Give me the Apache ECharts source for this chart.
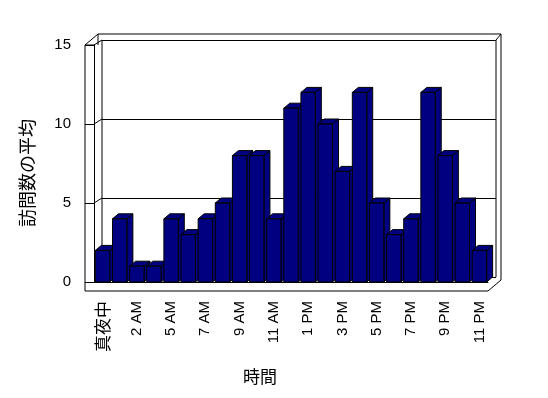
<!DOCTYPE html>
<html>
<head>
<meta charset="utf-8">
<script src="https://cdn.jsdelivr.net/npm/echarts@6/dist/echarts.min.js"></script>
<style>
html, body { margin: 0; padding: 0; background: #fff; }
#chart { width: 548px; height: 398px; }
</style>
</head>
<body>
<div id="chart"></div>
<script>
// data
var hours = ['真夜中', '1 AM', '2 AM', '3 AM', '5 AM', '6 AM', '7 AM', '8 AM', '9 AM', '10 AM', '11 AM', '12 PM',
             '1 PM', '2 PM', '3 PM', '4 PM', '5 PM', '6 PM', '7 PM', '8 PM', '9 PM', '10 PM', '11 PM'];
var visits = [2, 4, 1, 1, 4, 3, 4, 5, 8, 8, 4, 11, 12, 10, 7, 12, 5, 3, 4, 12, 8, 5, 2];
var yMin = 0, yMax = 15, yStep = 5;
var yName = '訪問数の平均';
var xName = '時間';

var FONT = '"Liberation Sans", "Noto Sans CJK JP", sans-serif';
var CJK = '"Noto Sans CJK JP", sans-serif';
var NAVY = '#000080';

// layout of the front plane and the 3d depth
var G = { left: 94, right: 60, top: 45, bottom: 116 };
var DX = 6, DY = -5;     // bar depth
var WX = 8, WY = -5;     // back wall offset
var SLAB = 9;            // floor / wall thickness

var chart = echarts.init(document.getElementById('chart'));

function renderBar(params, api) {
    var i = api.value(0), v = api.value(1);
    var top = api.coord([i, v]);
    var base = api.coord([i, 0]);
    var w = api.size([1, 0])[0] * 0.84;
    var xl = top[0] - w / 2, xr = top[0] + w / 2;
    var yt = top[1], yb = base[1];
    var st = { fill: NAVY, stroke: '#000', lineWidth: 1 };
    return {
        type: 'group',
        children: [
            { type: 'polygon', shape: { points: [[xr, yt], [xr + DX, yt + DY], [xr + DX, yb + DY], [xr, yb]] }, style: st },
            { type: 'polygon', shape: { points: [[xl, yt], [xl + DX, yt + DY], [xr + DX, yt + DY], [xr, yt]] }, style: st },
            { type: 'rect', shape: { x: xl, y: yt, width: w, height: yb - yt }, style: st }
        ]
    };
}

var option = {
    animation: false,
    backgroundColor: '#fff',
    grid: [
        { left: G.left, right: G.right, top: G.top, bottom: G.bottom },
        { left: G.left + WX, right: G.right - WX, top: G.top + WY, bottom: G.bottom - WY }
    ],
    xAxis: [
        {
            type: 'category',
            data: hours,
            gridIndex: 0,
            axisLine: { lineStyle: { color: '#000', width: 1 } },
            axisTick: { interval: 0, length: SLAB, lineStyle: { color: '#000' } },
            axisLabel: {
                interval: 1,
                rotate: 90,
                margin: 19,
                color: '#000',
                fontFamily: FONT,
                fontSize: 15,
                formatter: function (s) { return /AM|PM/.test(s) ? s : '{c|' + s + '}'; },
                rich: { c: { fontFamily: CJK, fontSize: 17, color: '#000' } }
            },
            splitLine: { show: false }
        },
        { type: 'category', data: hours, gridIndex: 1, show: false }
    ],
    yAxis: [
        {
            type: 'value',
            gridIndex: 0,
            min: yMin, max: yMax, interval: yStep,
            axisLine: { show: true, lineStyle: { color: '#000' } },
            axisTick: { show: true, length: SLAB, lineStyle: { color: '#000' } },
            axisLabel: { margin: 23, color: '#000', fontFamily: FONT, fontSize: 15 },
            splitLine: { show: false }
        },
        {
            type: 'value',
            gridIndex: 1,
            min: yMin, max: yMax, interval: yStep,
            axisLine: { show: false },
            axisTick: { show: false },
            axisLabel: { show: false },
            splitLine: { show: true, lineStyle: { color: '#000', width: 1 } }
        }
    ],
    series: [{
        type: 'custom',
        xAxisIndex: 0,
        yAxisIndex: 0,
        z: 5,
        renderItem: renderBar,
        data: visits.map(function (v, i) { return [i, v]; })
    }]
};
chart.setOption(option);

// wall / floor frame, derived from the front axis scale
var W = 548;
var L = G.left, R = W - G.right;
var T = chart.convertToPixel({ yAxisIndex: 0 }, yMax);
var B = chart.convertToPixel({ yAxisIndex: 0 }, yMin);
var FB = B + SLAB, WL = L - SLAB;
var OX = 13, OY = -11;   // outer rim offset
var ln = { stroke: '#000', lineWidth: 1, fill: null };
var frame = [
    [[WL, FB], [WL, T], [L, T]],
    [[WL, FB], [R, FB]],
    [[R, FB], [R + OX, FB + OY]],
    [[WL, T], [WL + OX, T + OY], [R + OX, T + OY], [R + OX, FB + OY]],
    [[R + WX, T + WY], [R + WX, B + WY]],
    [[R + WX, T + WY], [R + OX, T + OY]],
    [[L + WX, T + WY], [L + WX, B + WY]],
    [[L + 4, T], [WL + OX, T + OY]]
];
for (var v = yMin; v <= yMax; v += yStep) {
    var y = chart.convertToPixel({ yAxisIndex: 0 }, v);
    frame.push([[L, y], [L + WX, y + WY]]);
}
var els = frame.map(function (pts) {
    return { type: 'polyline', shape: { points: pts }, style: ln, z: 0, silent: true };
});
els.push({
    type: 'text', x: 260, y: 377, z: 1,
    style: { text: xName, font: '17px ' + CJK, fill: '#000', align: 'center', verticalAlign: 'middle' }
});
els.push({
    type: 'text', x: 27, y: 173, rotation: Math.PI / 2, z: 1,
    style: { text: yName, font: '18px ' + CJK, fill: '#000', align: 'center', verticalAlign: 'middle' }
});
chart.setOption({ graphic: { elements: els } });
</script>
</body>
</html>
